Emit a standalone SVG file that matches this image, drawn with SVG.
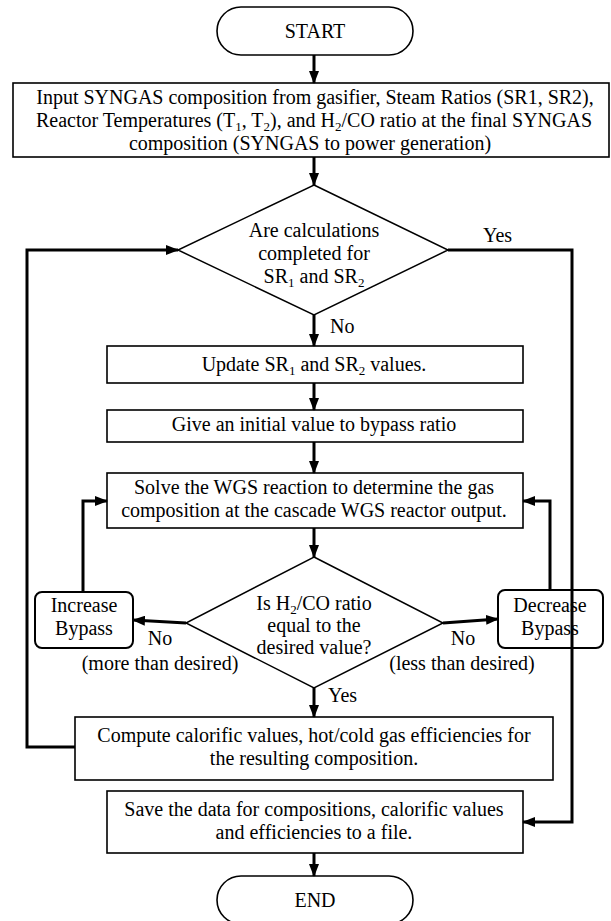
<svg xmlns="http://www.w3.org/2000/svg" width="611" height="921" viewBox="0 0 611 921">
<style>
text{font-family:"Liberation Serif","Times New Roman",serif;font-size:20px;fill:#000;text-anchor:middle}
.l{text-anchor:start}
.box{fill:#fff;stroke:#000;stroke-width:1.6}
.rbox{fill:#fff;stroke:#000;stroke-width:2}
.dia{fill:#fff;stroke:#000;stroke-width:1.5}
.con{fill:none;stroke:#000;stroke-width:3;stroke-linejoin:miter;marker-end:url(#ah)}
.sub{font-size:13px;baseline-shift:-4px}
</style>
<defs>
<marker id="ah" markerUnits="userSpaceOnUse" markerWidth="13" markerHeight="10" refX="12" refY="5" orient="auto">
<path d="M0,0 L13,5 L0,10 z" fill="#000"/>
</marker>
</defs>
<rect width="611" height="921" fill="#fff"/>

<g id="start">
<rect class="box" x="217" y="7" width="196" height="48" rx="24" ry="24"/>
<text x="315" y="38">START</text>
</g>

<g id="input">
<rect class="box" x="13" y="83" width="596" height="74"/>
<text x="315" y="104">Input SYNGAS composition from gasifier, Steam Ratios (SR1, SR2),</text>
<text x="314" y="127">Reactor Temperatures (T<tspan class="sub">1</tspan>, T<tspan class="sub">2</tspan>), and H<tspan class="sub">2</tspan>/CO ratio at the final SYNGAS</text>
<text x="310" y="150">composition (SYNGAS to power generation)</text>
</g>

<g id="decision1">
<polygon class="dia" points="314,185 448,250 314,315 178,250"/>
<text x="314" y="237">Are calculations</text>
<text x="314" y="260">completed for</text>
<text x="314" y="283">SR<tspan class="sub">1</tspan> and SR<tspan class="sub">2</tspan></text>
</g>

<g id="update">
<rect class="box" x="107" y="346" width="416" height="37"/>
<text x="314" y="371">Update SR<tspan class="sub">1</tspan> and SR<tspan class="sub">2</tspan> values.</text>
</g>

<g id="give">
<rect class="box" x="107" y="410" width="416" height="32"/>
<text x="314" y="431">Give an initial value to bypass ratio</text>
</g>

<g id="solve">
<rect class="box" x="107" y="473" width="416" height="55"/>
<text x="314" y="494">Solve the WGS reaction to determine the gas</text>
<text x="314" y="517">composition at the cascade WGS reactor output.</text>
</g>

<g id="decision2">
<polygon class="dia" points="314,557 443,623 314,688 186,623"/>
<text x="314" y="610">Is H<tspan class="sub">2</tspan>/CO ratio</text>
<text x="314" y="632">equal to the</text>
<text x="314" y="654">desired value?</text>
</g>

<g id="increase">
<rect class="rbox" x="35" y="592" width="98" height="56" rx="7" ry="7"/>
<text x="84" y="612">Increase</text>
<text x="84" y="635">Bypass</text>
</g>

<g id="decrease">
<rect class="rbox" x="498" y="590" width="105" height="58" rx="7" ry="7"/>
<text x="550" y="612">Decrease</text>
<text x="550" y="635">Bypass</text>
</g>

<g id="compute">
<rect class="box" x="75" y="717" width="478" height="63"/>
<text x="314" y="742">Compute calorific values, hot/cold gas efficiencies for</text>
<text x="314" y="765">the resulting composition.</text>
</g>

<g id="save">
<rect class="box" x="107" y="791" width="416" height="62"/>
<text x="314" y="816">Save the data for compositions, calorific values</text>
<text x="314" y="839">and efficiencies to a file.</text>
</g>

<g id="end">
<rect class="box" x="217" y="876" width="196" height="48" rx="24" ry="24"/>
<text x="315" y="907">END</text>
</g>

<g id="connectors">
<path class="con" d="M314,55 L314,83"/>
<path class="con" d="M314,157 L314,185"/>
<path class="con" d="M314,315 L314,346"/>
<path class="con" d="M314,383 L314,410"/>
<path class="con" d="M314,442 L314,473"/>
<path class="con" d="M314,528 L314,557"/>
<path class="con" d="M314,688 L314,717"/>
<path class="con" d="M186,623 L133,620"/>
<path class="con" d="M443,623 L498,619"/>
<path class="con" d="M83,592 L83,501 L107,501"/>
<path class="con" d="M550,590 L550,501 L523,501"/>
<path class="con" d="M75,747 L27,747 L27,250 L178,250"/>
<path class="con" d="M448,250 L572,250 L572,822 L523,822"/>
<path class="con" d="M314,853 L314,876"/>
</g>

<g id="labels">
<text class="l" x="483" y="242">Yes</text>
<text class="l" x="330" y="333">No</text>
<text x="160" y="645">No</text>
<text x="160" y="670">(more than desired)</text>
<text x="463" y="645">No</text>
<text x="462" y="670">(less than desired)</text>
<text class="l" x="328" y="702">Yes</text>
</g>
</svg>
